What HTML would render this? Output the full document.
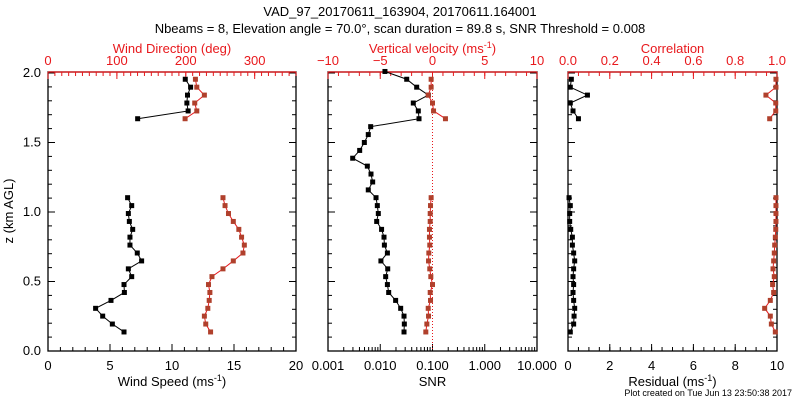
<!DOCTYPE html>
<html><head><meta charset="utf-8"><style>
body{margin:0;background:#fff;}
svg{display:block;font-family:"Liberation Sans",sans-serif;}
</style></head><body>
<svg id="c" width="800" height="400" viewBox="0 0 800 400"></svg>
<script>
// heights index (km AGL)
const heights = Array.from({length:34},(_,i)=>+(0.137+i*0.0568).toFixed(3));
const windSpeed = [6.13,5.19,4.41,3.84,5.08,6.16,6.13,6.75,6.48,7.55,7.2,6.61,6.61,6.83,6.56,6.48,6.75,6.42,null,null,null,null,null,null,null,null,null,7.23,11.3,11.2,11.25,11.5,11.07,null];
const windDir = [236,229,227,232,234,235,233,238,254,269,283,285,281,277,269,262,257,254,null,null,null,null,null,null,null,null,null,199,216,213,227,216,214,null];
const snr = [0.0285,0.0289,0.0285,0.0246,0.0197,0.0145,0.0137,0.0127,0.0139,0.0103,0.0137,0.0120,0.0118,0.0106,0.00855,0.00918,0.00879,0.0083,0.0059,0.00716,0.00665,0.00566,0.00297,0.00404,0.00496,0.0059,0.00656,0.0552,0.0535,0.0429,0.0832,0.0498,0.0321,0.0123];
const wVel = [-0.64,-0.54,-0.38,-0.41,-0.19,-0.22,0,-0.16,-0.26,-0.38,-0.35,-0.26,-0.29,-0.29,-0.22,-0.22,-0.19,-0.13,null,null,null,null,null,null,null,null,null,1.24,0.1,0,-0.41,-0.13,-0.13,null];
const residual = [0.11,0.27,0.29,0.32,0.27,0.24,0.27,0.24,0.27,0.32,0.27,0.21,0.21,0.13,0.08,0.08,0.11,0.05,null,null,null,null,null,null,null,null,null,0.5,0.24,0.11,0.93,0.11,0.16,null];
const correlation = [0.992,0.973,0.968,0.941,0.968,0.984,0.979,0.987,0.981,0.984,0.987,0.989,0.992,0.994,0.995,0.995,0.995,0.995,null,null,null,null,null,null,null,null,null,0.965,0.994,0.994,0.947,0.995,0.995,null];
const zTicks = ["0.0","0.5","1.0","1.5","2.0"];
const speedTicks = ["0","5","10","15","20"];
const dirTicks = ["0","100","200","300"];
const snrTicks = ["0.001","0.010","0.100","1.000","10.000"];
const wTicks = ["\u221210","\u22125","0","5","10"];
const resTicks = ["0","2","4","6","8","10"];
const corrTicks = ["0.0","0.2","0.4","0.6","0.8","1.0"];

const NS="http://www.w3.org/2000/svg";
const svg=document.getElementById('c');
function el(t,a,p){const e=document.createElementNS(NS,t);for(const k in a)e.setAttribute(k,a[k]);(p||svg).appendChild(e);return e;}
function txt(x,y,s,a,p){const e=el('text',Object.assign({x:x,y:y,'font-size':13,'text-anchor':'middle'},a||{}),p);e.textContent=s;return e;}
const TOP=72,BOT=351;
const yS=z=>351-139*z;
const RED='#e8181c', MRK='#b0402c';

function panel(name,L,R,bot,top){
  const g=el('g',{});
  
  
  el('rect',{x:L,y:TOP,width:R-L,height:BOT-TOP,fill:'none',stroke:'#000','stroke-width':1.3},g);
  // left/right y ticks
  for(let k=0;k<=20;k++){const z=k*0.1,y=yS(z);const len=k%5==0?7:4;
    el('line',{x1:L,y1:y,x2:L+len,y2:y,stroke:'#000'},g);el('line',{x1:R,y1:y,x2:R-len,y2:y,stroke:'#000'},g);}
  // bottom
  bot.minor.forEach(v=>{const x=bot.sc(v);el('line',{x1:x,y1:BOT,x2:x,y2:BOT-4,stroke:'#000'},g);});
  bot.major.forEach((v,i)=>{const x=bot.sc(v);el('line',{x1:x,y1:BOT,x2:x,y2:BOT-7,stroke:'#000'},g);
    const t=txt(x,370,bot.labels[i],{},g);});
  const bt=txt((L+R)/2,386,'',{},g);bt.innerHTML=bot.title;
  
  // top (red)
  el('line',{x1:L,y1:TOP,x2:R,y2:TOP,stroke:RED,'stroke-width':1.3},g);
  top.minor.forEach(v=>{const x=top.sc(v);el('line',{x1:x,y1:TOP,x2:x,y2:TOP+4,stroke:RED},g);});
  top.major.forEach((v,i)=>{const x=top.sc(v);el('line',{x1:x,y1:TOP,x2:x,y2:TOP+7,stroke:RED},g);
    const t=txt(x,65,top.labels[i],{fill:RED},g);});
  const tt=txt((L+R)/2,53,'',{fill:RED},g);tt.innerHTML=top.title;
  
  return g;
}
function series(g,name,vals,sc,line,mark,dotted){
  const pts=[];let seg=[];
  vals.forEach((v,i)=>{if(v==null){if(seg.length)pts.push(seg);seg=[];}else seg.push([sc(v),yS(heights[i])]);});
  if(seg.length)pts.push(seg);
  pts.forEach(s=>{const p=el('polyline',{points:s.map(q=>q.join(',')).join(' '),fill:'none',stroke:line,'stroke-width':1},g);
    
    s.forEach(q=>{const r=el('rect',{x:q[0]-2.5,y:q[1]-2.5,width:5,height:5,fill:mark},g);
      });});
}
const rng=(a,b,s)=>{const o=[];for(let v=a;v<=b+1e-9;v+=s)o.push(+v.toFixed(6));return o;};

// Panel 1
const p1L=48,p1R=296;
const spd=v=>p1L+(p1R-p1L)*v/20, dir=v=>p1L+(p1R-p1L)*v/360;
const g1=panel('wind-panel',p1L,p1R,
 {sc:spd,major:speedTicks.map(Number),labels:speedTicks,minor:rng(0,20,1),title:'Wind Speed (ms<tspan dy="-5" font-size="9">-1</tspan><tspan dy="5">)</tspan>'},
 {sc:dir,major:dirTicks.map(Number),labels:dirTicks,minor:rng(0,360,10),title:'Wind Direction (deg)'});
zTicks.forEach(s=>{const t=txt(41,yS(+s)+4,s,{'text-anchor':'end'});});
const yt=txt(0,0,'z (km AGL)',{transform:'translate(13,211) rotate(-90)'});

series(g1,'wind-speed',windSpeed,spd,'#000','#000');
series(g1,'wind-direction',windDir,dir,RED,MRK);

// Panel 2
const p2L=328,p2R=537;
const lg=v=>p2L+(p2R-p2L)*(Math.log10(v)+3)/4, wv=v=>p2L+(p2R-p2L)*(v+10)/20;
const snrMinor=[];for(let d=-3;d<1;d++)for(let m=2;m<=9;m++)snrMinor.push(m*Math.pow(10,d));
const g2=panel('snr-panel',p2L,p2R,
 {sc:lg,major:snrTicks.map(Number),labels:snrTicks,minor:snrMinor,title:'SNR'},
 {sc:wv,major:wTicks.map(s=>Number(s.replace('\u2212','-'))),labels:wTicks,minor:rng(-10,10,1),title:'Vertical velocity (ms<tspan dy="-5" font-size="9">-1</tspan><tspan dy="5">)</tspan>'});
const zl=el('line',{x1:wv(0),y1:TOP,x2:wv(0),y2:BOT,stroke:RED,'stroke-dasharray':'1,2'},g2);

series(g2,'snr',snr,lg,'#000','#000');
series(g2,'vertical-velocity',wVel,wv,RED,MRK);

// Panel 3
const p3L=568,p3R=777;
const rs=v=>p3L+(p3R-p3L)*v/10, cr=v=>p3L+(p3R-p3L)*v;
const g3=panel('residual-panel',p3L,p3R,
 {sc:rs,major:resTicks.map(Number),labels:resTicks,minor:rng(0,10,0.5),title:'Residual (ms<tspan dy="-5" font-size="9">-1</tspan><tspan dy="5">)</tspan>'},
 {sc:cr,major:corrTicks.map(Number),labels:corrTicks,minor:rng(0,1,0.05),title:'Correlation'});
series(g3,'residual',residual,rs,'#000','#000');
series(g3,'correlation',correlation,cr,RED,MRK);

// titles
const t1=txt(400,16,'VAD_97_20170611_163904, 20170611.164001');

const t2=txt(400,33,'Nbeams = 8, Elevation angle = 70.0\u00b0, scan duration = 89.8 s, SNR Threshold = 0.008');

const ft=txt(792,396,'Plot created on Tue Jun 13 23:50:38 2017',{'text-anchor':'end','font-size':9});

</script>
</body></html>
